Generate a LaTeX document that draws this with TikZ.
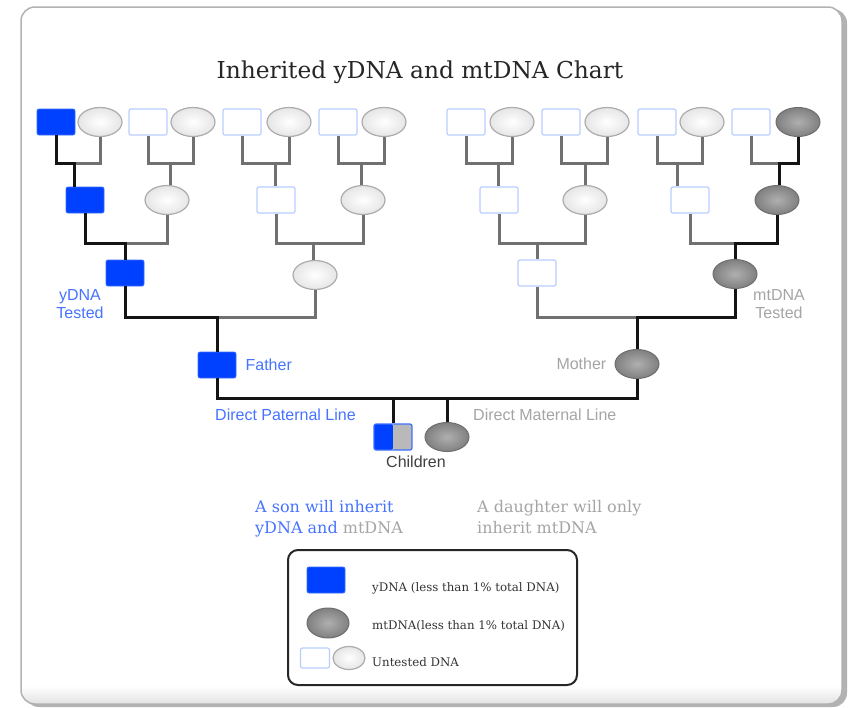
\documentclass[tikz,border=0pt]{standalone}
\usepackage{fontspec}
\setmainfont{DejaVu Serif}
\setsansfont{Liberation Sans}
\usepackage{tikz}
\usetikzlibrary{shapes,positioning}

\definecolor{ydna}{RGB}{0,64,255}
\definecolor{ydnaedge}{RGB}{60,110,255}
\definecolor{untestedge}{RGB}{185,205,255}
\definecolor{mtedge}{RGB}{110,110,110}
\definecolor{mtdark}{RGB}{128,128,128}
\definecolor{mtlight}{RGB}{175,175,175}
\definecolor{linegray}{RGB}{112,112,112}
\definecolor{lineblack}{RGB}{20,20,20}
\definecolor{txtblue}{RGB}{70,115,255}
\definecolor{txtgray}{RGB}{165,165,165}

\begin{document}
\begin{tikzpicture}[x=1pt,y=-1pt,
                    ysq/.style={rectangle,rounded corners=2pt,fill=ydna,draw=ydnaedge,
                      line width=0.8pt,minimum width=38pt,minimum height=26pt,inner sep=0pt},
                    usq/.style={rectangle,rounded corners=2pt,fill=white,draw=untestedge,
                      line width=1.2pt,minimum width=38pt,minimum height=26pt,inner sep=0pt},
                    uel/.style={ellipse,draw=gray!65,line width=1.2pt,inner color=white,
                      outer color=gray!20,minimum width=44pt,minimum height=29pt,inner sep=0pt},
                    mel/.style={ellipse,draw=mtedge,line width=1pt,inner color=mtlight,
                      outer color=mtdark,minimum width=44pt,minimum height=29pt,inner sep=0pt},
                    gline/.style={draw=linegray,line width=3pt},
                    bline/.style={draw=lineblack,line width=3pt},
                    lbl/.style={font=\sffamily\fontsize{16}{18}\selectfont,inner sep=0pt},
                    note/.style={font=\fontsize{16}{21}\selectfont,inner sep=0pt,align=left},
                    legtext/.style={font=\fontsize{11.8}{14}\selectfont,text=black!80,inner sep=0pt}
                    ]
  \useasboundingbox (0,0) rectangle (851,707);

  % frame
  \fill[gray!60,rounded corners=14pt] (25,9) rectangle (847,707);
  \fill[white,rounded corners=14pt] (21,7) rectangle (842,704);
  \begin{scope}
    \clip[rounded corners=14pt] (21,7) rectangle (842,704);
    \shade[top color=white,bottom color=gray!22] (21,686) rectangle (842,704);
  \end{scope}
  \draw[gray!60,line width=1.5pt,rounded corners=14pt] (21,7) rectangle (842,704);

  \node[font=\fontsize{23.3}{28}\selectfont,text=black!85,anchor=base] (title) at (420,78)
    {Inherited yDNA and mtDNA Chart};

  % first row
  \node[ysq] (m1) at (56,122) {};
  \node[uel] (f1) at (100,122) {};
  \node[usq] (m2) at (148,122) {};
  \node[uel] (f2) at (193,122) {};
  \node[usq] (m3) at (242,122) {};
  \node[uel] (f3) at (289,122) {};
  \node[usq] (m4) at (338,122) {};
  \node[uel] (f4) at (384,122) {};
  \node[usq] (m5) at (466,122) {};
  \node[uel] (f5) at (512,122) {};
  \node[usq] (m6) at (561,122) {};
  \node[uel] (f6) at (607,122) {};
  \node[usq] (m7) at (657,122) {};
  \node[uel] (f7) at (702,122) {};
  \node[usq] (m8) at (751,122) {};
  \node[mel] (f8) at (798,122) {};

  % second row
  \node[ysq] (p1) at (85,200) {};
  \node[uel] (p2) at (167,200) {};
  \node[usq] (p3) at (276,200) {};
  \node[uel] (p4) at (363,200) {};
  \node[usq] (p5) at (499,200) {};
  \node[uel] (p6) at (585,200) {};
  \node[usq] (p7) at (690,200) {};
  \node[mel] (p8) at (777,200) {};

  % third row
  \node[ysq] (q1) at (125,273) {};
  \node[uel] (q2) at (315,275) {};
  \node[usq] (q3) at (537,273) {};
  \node[mel] (q4) at (735,274) {};

  \node[ysq] (father) at (217,365) {};
  \node[mel] (mother) at (637,364) {};

  \node[usq,draw=ydnaedge,
        path picture={
          \fill[ydna] (path picture bounding box.south west) rectangle (path picture bounding box.north);
          \fill[gray!55] (path picture bounding box.south) rectangle (path picture bounding box.north east);
        }] (son) at (393,437) {};
  \node[mel] (daughter) at (447,437) {};

  % junctions
  \coordinate (j1) at (74,163);
  \coordinate (j2) at (170,163);
  \coordinate (j3) at (275,163);
  \coordinate (j4) at (361,163);
  \coordinate (j5) at (498,163);
  \coordinate (j6) at (585,163);
  \coordinate (j7) at (677,163);
  \coordinate (j8) at (779,163);
  \coordinate (k1) at (125,243);
  \coordinate (k2) at (313,243);
  \coordinate (k3) at (537,243);
  \coordinate (k4) at (735,243);
  \coordinate (k5) at (217,317);
  \coordinate (k6) at (637,317);
  \coordinate (c1) at (393,398);
  \coordinate (c2) at (447,398);

  % first row to second row
  \draw[gline] (j1) -| (f1.south);
  \draw[bline] (m1.south) |- (j1) -- (j1 |- p1.north);
  \draw[gline] (m2.south) |- (j2) -| (f2.south);
  \draw[gline] (j2) -- (j2 |- p2.north);
  \draw[gline] (m3.south) |- (j3) -| (f3.south);
  \draw[gline] (j3) -- (j3 |- p3.north);
  \draw[gline] (m4.south) |- (j4) -| (f4.south);
  \draw[gline] (j4) -- (j4 |- p4.north);
  \draw[gline] (m5.south) |- (j5) -| (f5.south);
  \draw[gline] (j5) -- (j5 |- p5.north);
  \draw[gline] (m6.south) |- (j6) -| (f6.south);
  \draw[gline] (j6) -- (j6 |- p6.north);
  \draw[gline] (m7.south) |- (j7) -| (f7.south);
  \draw[gline] (j7) -- (j7 |- p7.north);
  \draw[gline] (m8.south) |- (j8);
  \draw[bline] (f8.south) |- (j8) -- (j8 |- p8.north);

  % second row to third row
  \draw[gline] (k1) -| (p2.south);
  \draw[bline] (p1.south) |- (k1) -- (q1.north);
  \draw[gline] (p3.south) |- (k2) -| (p4.south);
  \draw[gline] (k2) -- (k2 |- q2.north);
  \draw[gline] (p5.south) |- (k3) -| (p6.south);
  \draw[gline] (k3) -- (q3.north);
  \draw[gline] (p7.south) |- (k4);
  \draw[bline] (p8.south) |- (k4) -- (q4.north);

  % third row to parents
  \draw[gline] (k5) -| (q2.south);
  \draw[bline] (q1.south) |- (k5) -- (father.north);
  \draw[gline] (q3.south) |- (k6);
  \draw[bline] (q4.south) |- (k6) -- (mother.north);

  % parents to children
  \draw[bline] (father.south) |- (c1) -- (c2) -| (mother.south);
  \draw[bline] (c1) -- (son.north);
  \draw[bline] (c2) -- (daughter.north);

  % labels
  \node[lbl,text=txtblue,align=center] (ytested) at (80,304) {yDNA\\Tested};
  \node[lbl,text=txtgray,align=center] (mttested) at (779,304) {mtDNA\\Tested};
  \node[lbl,text=txtblue,right=9pt of father] (fatherlbl) {Father};
  \node[lbl,text=txtgray,left=8pt of mother] (motherlbl) {Mother};
  \node[lbl,text=txtblue,anchor=west] (patline) at (215,415) {Direct Paternal Line};
  \node[lbl,text=txtgray,anchor=west] (matline) at (473,415) {Direct Maternal Line};
  \node[lbl,text=black!75] (children) at (416,462) {Children};

  \node[note,text=txtblue,anchor=north west] (sonnote) at (255,500)
    {A son will inherit\\yDNA and \textcolor{txtgray}{mtDNA}};
  \node[note,text=txtgray,anchor=north west] (daughternote) at (477,500)
    {A daughter will only\\inherit mtDNA};

  % legend
  \node[draw=black!85,line width=2pt,rounded corners=10pt,minimum width=289pt,
        minimum height=135pt,inner sep=0pt] (legend) at (432.5,617.5) {};
  \node[ysq] (lgy) at (326,580) {};
  \node[mel,minimum width=42pt,minimum height=30pt] (lgm) at (328,623) {};
  \node[usq,minimum width=29pt,minimum height=20pt] (lgus) at (315,658) {};
  \node[uel,minimum width=32pt,minimum height=23pt] (lgue) at (349,658) {};
  \node[legtext,anchor=west] (lgytext) at (372,588) {yDNA (less than 1\% total DNA)};
  \node[legtext,anchor=west] (lgmtext) at (372,626) {mtDNA(less than 1\% total DNA)};
  \node[legtext,anchor=west] (lgutext) at (372,662) {Untested DNA};
\end{tikzpicture}
\end{document}
